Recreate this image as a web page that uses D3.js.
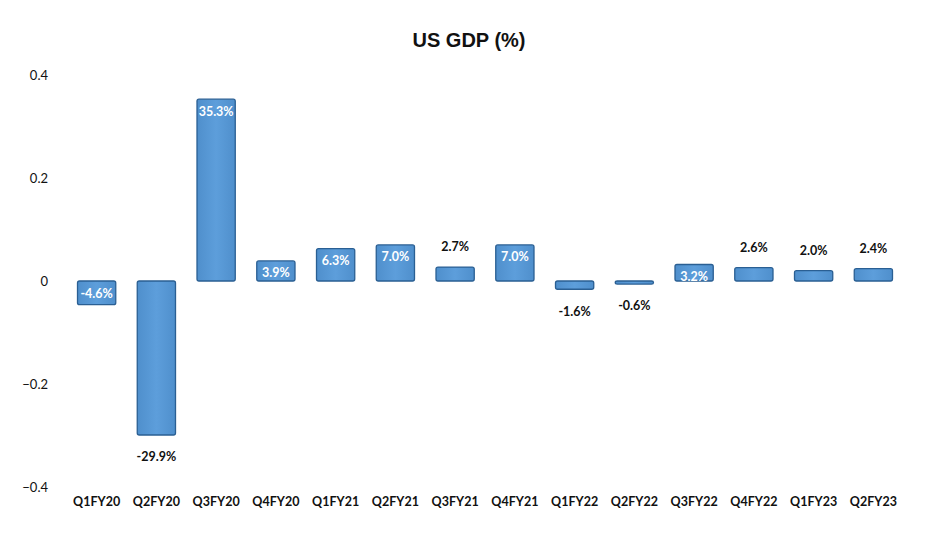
<!DOCTYPE html>
<html>
<head>
<meta charset="utf-8">
<script src="https://cdn.jsdelivr.net/npm/d3@7"></script>
<style>
  body { margin: 0; background: #fff; }
  svg { font-family: Lato, "Open Sans", sans-serif; }
</style>
</head>
<body>
<div id="chart" style="width:940px;height:535px"></div>
<script>
// quarters and GDP growth (as fraction)
const quarters = ['Q1FY20', 'Q2FY20', 'Q3FY20', 'Q4FY20', 'Q1FY21', 'Q2FY21', 'Q3FY21',
    'Q4FY21', 'Q1FY22', 'Q2FY22', 'Q3FY22', 'Q4FY22', 'Q1FY23', 'Q2FY23'];
const gdp = [-0.046, -0.299, 0.353, 0.039, 0.063, 0.070, 0.027,
    0.070, -0.016, -0.006, 0.032, 0.026, 0.020, 0.024];
// which labels sit inside the bar (white) vs outside (black)
const insideLabel = ['Q1FY20', 'Q3FY20', 'Q4FY20', 'Q1FY21', 'Q2FY21', 'Q4FY21', 'Q3FY22'];
const yTicks = [0.4, 0.2, 0, -0.2, -0.4];

const data = quarters.map((q, i) => ({q: q, v: gdp[i]}));

const W = 940, H = 535;
const margin = {top: 75, right: 26, bottom: 48, left: 56};
const innerW = W - margin.left - margin.right;
const innerH = H - margin.top - margin.bottom;

const svg = d3.select('#chart').append('svg')
    .attr('width', W)
    .attr('height', H);

const defs = svg.append('defs');
const grad = defs.append('linearGradient')
    .attr('id', 'barFill')
    .attr('x1', 0).attr('x2', 1).attr('y1', 0).attr('y2', 0);
grad.append('stop').attr('offset', '0%').attr('stop-color', '#4f8fcc');
grad.append('stop').attr('offset', '50%').attr('stop-color', '#5d9edb');
grad.append('stop').attr('offset', '100%').attr('stop-color', '#4f8fcc');

const g = svg.append('g')
    .attr('transform', `translate(${margin.left},${margin.top})`);

const x = d3.scaleBand()
    .domain(quarters)
    .range([0, innerW])
    .padding(0.36);

const y = d3.scaleLinear()
    .domain([-0.4, 0.4])
    .range([innerH, 0]);

// y axis, labels only
const yAxis = d3.axisLeft(y)
    .tickValues(yTicks)
    .tickFormat(d => d === 0 ? '0' : d3.format('.1f')(d))
    .tickSize(0)
    .tickPadding(8);
const yAxisG = g.append('g').call(yAxis);
yAxisG.select('.domain').remove();
yAxisG.selectAll('text')
    .attr('font-size', 13)
    .attr('font-family', 'Lato, sans-serif')
    .attr('fill', '#111');

// x axis labels along the bottom
const xAxis = d3.axisBottom(x).tickSize(0).tickPadding(10);
const xAxisG = g.append('g')
    .attr('transform', `translate(0,${innerH})`)
    .call(xAxis);
xAxisG.select('.domain').remove();
xAxisG.selectAll('text')
    .attr('font-size', 12.5)
    .attr('font-weight', 'bold')
    .attr('font-family', 'Lato, sans-serif')
    .attr('fill', '#111');

// bars
g.append('g').attr('class', 'bars')
    .selectAll('rect').data(data)
    .enter()
    .append('rect')
    .attr('x', d => x(d.q))
    .attr('y', d => y(Math.max(0, d.v)))
    .attr('width', x.bandwidth())
    .attr('height', d => Math.max(2, Math.abs(y(d.v) - y(0))))
    .attr('rx', 2)
    .attr('fill', 'url(#barFill)')
    .attr('stroke', '#2a5f93')
    .attr('stroke-width', 1.3);

// value labels
const fmt = d => (d * 100).toFixed(1) + '%';
g.append('g').attr('class', 'labels')
    .selectAll('text').data(data)
    .enter()
    .append('text')
    .attr('x', d => x(d.q) + x.bandwidth() / 2)
    .attr('y', d => {
        const inside = insideLabel.includes(d.q);
        const end = y(d.v);
        if (inside) return d.v >= 0 ? end + 12 : end - 11;
        return d.v >= 0 ? end - 20 : end + 22;
    })
    .attr('dy', '0.35em')
    .attr('text-anchor', 'middle')
    .attr('font-size', 12.5)
    .attr('font-weight', 'bold')
    .attr('fill', d => insideLabel.includes(d.q) ? '#fff' : '#111')
    .text(d => fmt(d.v));

// title
svg.append('text')
    .attr('x', 469)
    .attr('y', 40)
    .attr('dy', '0.35em')
    .attr('text-anchor', 'middle')
    .attr('font-family', 'Liberation Sans, Arial, sans-serif')
    .attr('font-weight', 'bold')
    .attr('font-size', 20)
    .attr('fill', '#111')
    .text('US GDP (%)');
</script>
</body>
</html>
